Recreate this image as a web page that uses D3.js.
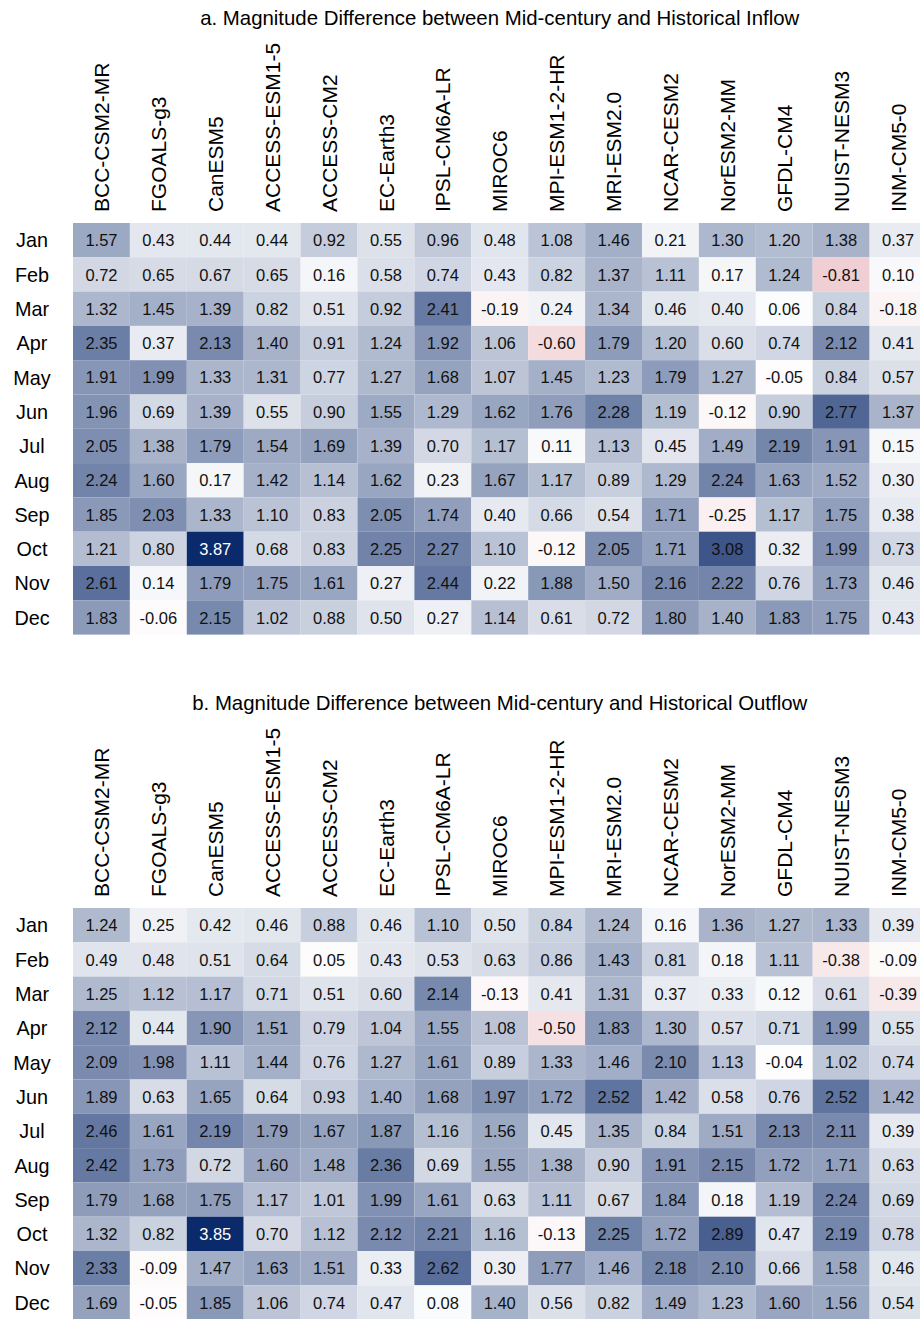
<!DOCTYPE html>
<html>
<head>
<meta charset="utf-8">
<script src="https://cdn.jsdelivr.net/npm/d3@7"></script>
<style>
  html, body { margin: 0; padding: 0; background: #fff; }
  svg { display: block; font-family: "Liberation Sans", Arial, sans-serif; }
</style>
</head>
<body>
<svg id="chart" width="920" height="1319"></svg>
<script>
// Climate models (columns) and months (rows)
const models = ["BCC-CSM2-MR","FGOALS-g3","CanESM5","ACCESS-ESM1-5","ACCESS-CM2","EC-Earth3",
  "IPSL-CM6A-LR","MIROC6","MPI-ESM1-2-HR","MRI-ESM2.0","NCAR-CESM2","NorESM2-MM","GFDL-CM4",
  "NUIST-NESM3","INM-CM5-0"];
const months = ["Jan","Feb","Mar","Apr","May","Jun","Jul","Aug","Sep","Oct","Nov","Dec"];

// a. inflow differences, one row per month
const inflow = [
  [1.57,0.43,0.44,0.44,0.92,0.55,0.96,0.48,1.08,1.46,0.21,1.30,1.20,1.38,0.37],
  [0.72,0.65,0.67,0.65,0.16,0.58,0.74,0.43,0.82,1.37,1.11,0.17,1.24,-0.81,0.10],
  [1.32,1.45,1.39,0.82,0.51,0.92,2.41,-0.19,0.24,1.34,0.46,0.40,0.06,0.84,-0.18],
  [2.35,0.37,2.13,1.40,0.91,1.24,1.92,1.06,-0.60,1.79,1.20,0.60,0.74,2.12,0.41],
  [1.91,1.99,1.33,1.31,0.77,1.27,1.68,1.07,1.45,1.23,1.79,1.27,-0.05,0.84,0.57],
  [1.96,0.69,1.39,0.55,0.90,1.55,1.29,1.62,1.76,2.28,1.19,-0.12,0.90,2.77,1.37],
  [2.05,1.38,1.79,1.54,1.69,1.39,0.70,1.17,0.11,1.13,0.45,1.49,2.19,1.91,0.15],
  [2.24,1.60,0.17,1.42,1.14,1.62,0.23,1.67,1.17,0.89,1.29,2.24,1.63,1.52,0.30],
  [1.85,2.03,1.33,1.10,0.83,2.05,1.74,0.40,0.66,0.54,1.71,-0.25,1.17,1.75,0.38],
  [1.21,0.80,3.87,0.68,0.83,2.25,2.27,1.10,-0.12,2.05,1.71,3.08,0.32,1.99,0.73],
  [2.61,0.14,1.79,1.75,1.61,0.27,2.44,0.22,1.88,1.50,2.16,2.22,0.76,1.73,0.46],
  [1.83,-0.06,2.15,1.02,0.88,0.50,0.27,1.14,0.61,0.72,1.80,1.40,1.83,1.75,0.43]
];

// b. outflow differences, one row per month
const outflow = [
  [1.24,0.25,0.42,0.46,0.88,0.46,1.10,0.50,0.84,1.24,0.16,1.36,1.27,1.33,0.39],
  [0.49,0.48,0.51,0.64,0.05,0.43,0.53,0.63,0.86,1.43,0.81,0.18,1.11,-0.38,-0.09],
  [1.25,1.12,1.17,0.71,0.51,0.60,2.14,-0.13,0.41,1.31,0.37,0.33,0.12,0.61,-0.39],
  [2.12,0.44,1.90,1.51,0.79,1.04,1.55,1.08,-0.50,1.83,1.30,0.57,0.71,1.99,0.55],
  [2.09,1.98,1.11,1.44,0.76,1.27,1.61,0.89,1.33,1.46,2.10,1.13,-0.04,1.02,0.74],
  [1.89,0.63,1.65,0.64,0.93,1.40,1.68,1.97,1.72,2.52,1.42,0.58,0.76,2.52,1.42],
  [2.46,1.61,2.19,1.79,1.67,1.87,1.16,1.56,0.45,1.35,0.84,1.51,2.13,2.11,0.39],
  [2.42,1.73,0.72,1.60,1.48,2.36,0.69,1.55,1.38,0.90,1.91,2.15,1.72,1.71,0.63],
  [1.79,1.68,1.75,1.17,1.01,1.99,1.61,0.63,1.11,0.67,1.84,0.18,1.19,2.24,0.69],
  [1.32,0.82,3.85,0.70,1.12,2.12,2.21,1.16,-0.13,2.25,1.72,2.89,0.47,2.19,0.78],
  [2.33,-0.09,1.47,1.63,1.51,0.33,2.62,0.30,1.77,1.46,2.18,2.10,0.66,1.58,0.46],
  [1.69,-0.05,1.85,1.06,0.74,0.47,0.08,1.40,0.56,0.82,1.49,1.23,1.60,1.56,0.54]
];

const titles = [
  "a. Magnitude Difference between Mid-century and Historical Inflow",
  "b. Magnitude Difference between Mid-century and Historical Outflow"
];

const svg = d3.select("#chart");

const gridLeft = 73, cellW = 56.9, cellH = 34.3;
const x = d3.scaleBand().domain(models).range([gridLeft, gridLeft + cellW * models.length]);
const panelTops = [223, 908];

function drawPanel(values, title, top) {
  const y = d3.scaleBand().domain(months).range([top, top + cellH * months.length]);
  const maxAbs = d3.max(values.flat(), v => Math.abs(v));
  const color = d3.scaleLinear()
    .domain([-maxAbs, 0, maxAbs])
    .range(["#b2182b", "#ffffff", "#0b2a6b"])
    .interpolate(d3.interpolateRgb);

  const g = svg.append("g");

  g.append("text")
    .attr("x", (x.range()[0] + x.range()[1]) / 2)
    .attr("y", top - 198)
    .attr("text-anchor", "middle")
    .attr("font-size", 20.4)
    .attr("fill", "#000")
    .text(title);

  // column headers, rotated
  g.selectAll("text.col")
    .data(models)
    .join("text")
    .attr("class", "col")
    .attr("transform", d => `translate(${x(d) + x.bandwidth() / 2},${top - 11}) rotate(-90)`)
    .attr("dy", "0.36em")
    .attr("font-size", 21)
    .attr("fill", "#000")
    .text(d => d);

  // row labels
  g.selectAll("text.row")
    .data(months)
    .join("text")
    .attr("class", "row")
    .attr("x", 32)
    .attr("y", d => y(d) + y.bandwidth() / 2)
    .attr("dy", "0.37em")
    .attr("text-anchor", "middle")
    .attr("font-size", 19.8)
    .attr("fill", "#000")
    .text(d => d);

  const cells = values.flatMap((row, i) => row.map((v, j) => ({ m: months[i], k: models[j], v })));

  g.selectAll("rect.cell")
    .data(cells)
    .join("rect")
    .attr("class", "cell")
    .attr("x", d => x(d.k))
    .attr("y", d => y(d.m))
    .attr("width", x.bandwidth())
    .attr("height", y.bandwidth())
    .attr("fill", d => color(d.v));

  g.selectAll("text.val")
    .data(cells)
    .join("text")
    .attr("class", "val")
    .attr("x", d => x(d.k) + x.bandwidth() / 2)
    .attr("y", d => y(d.m) + y.bandwidth() / 2)
    .attr("dy", "0.37em")
    .attr("text-anchor", "middle")
    .attr("font-size", 16.5)
    .attr("fill", d => d.v > 3.5 ? "#fff" : "#111")
    .text(d => d.v.toFixed(2));
}

drawPanel(inflow, titles[0], panelTops[0]);
drawPanel(outflow, titles[1], panelTops[1]);
</script>
</body>
</html>
